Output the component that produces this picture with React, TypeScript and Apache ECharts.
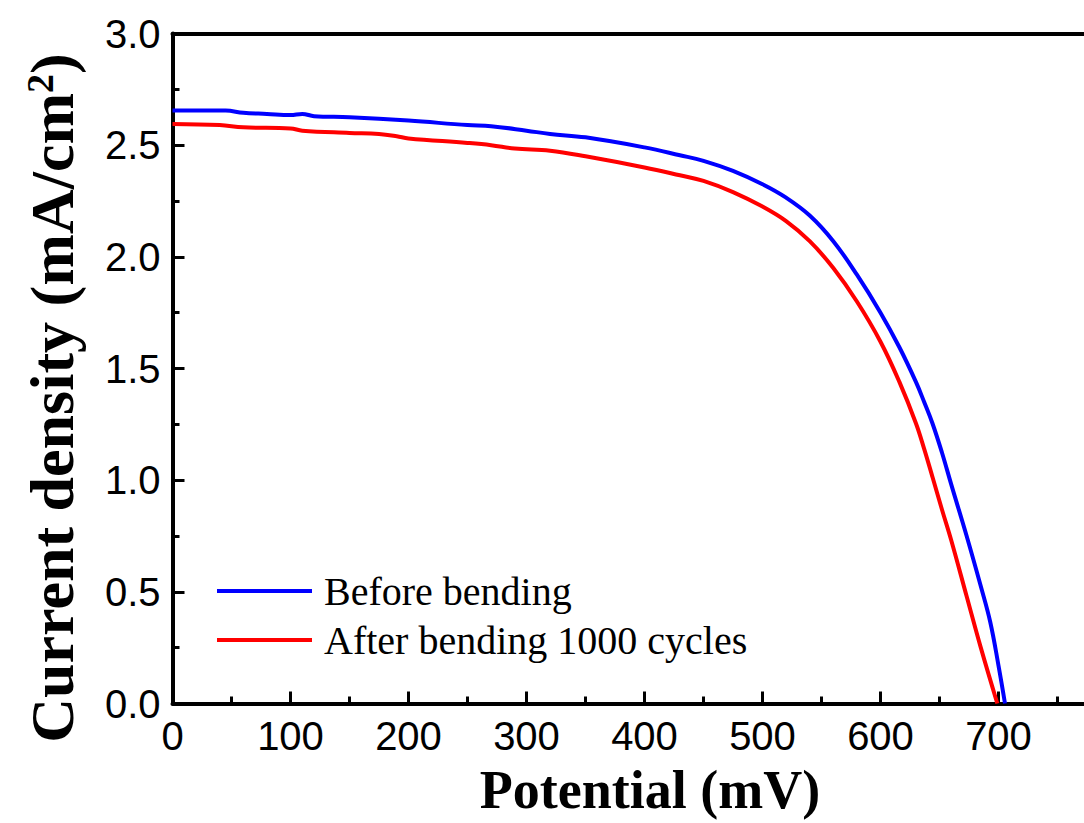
import React, { useEffect, useRef } from "react";
import * as echarts from "echarts";

const potentialBefore = [0, 20, 45, 60, 80, 100, 110, 120, 150, 200, 250, 270, 300, 320, 350, 400, 430, 450, 475, 500, 520, 540, 560, 580, 600, 616, 630, 637, 644, 652, 660, 673, 685, 693, 700, 705.5];
const currentBefore = [2.655, 2.655, 2.655, 2.645, 2.64, 2.635, 2.64, 2.63, 2.625, 2.61, 2.59, 2.585, 2.565, 2.55, 2.535, 2.49, 2.455, 2.43, 2.385, 2.325, 2.265, 2.185, 2.07, 1.92, 1.75, 1.595, 1.44, 1.35, 1.255, 1.125, 0.98, 0.75, 0.525, 0.365, 0.17, 0];

const potentialAfter = [0, 40, 60, 100, 110, 150, 175, 190, 200, 250, 270, 290, 320, 350, 400, 430, 450, 475, 500, 520, 540, 560, 580, 600, 616, 630, 637, 644, 652, 660, 673, 685, 699];
const currentAfter = [2.595, 2.59, 2.58, 2.575, 2.565, 2.555, 2.55, 2.54, 2.53, 2.51, 2.5, 2.485, 2.475, 2.45, 2.4, 2.365, 2.34, 2.29, 2.225, 2.16, 2.07, 1.95, 1.8, 1.62, 1.44, 1.255, 1.14, 1.015, 0.87, 0.73, 0.48, 0.25, 0];

const seriesNames = ["Before bending", "After bending 1000 cycles"];
const xTitle = "Potential (mV)";
const yTitleMain = "Current density (mA/cm";
const yTitleSup = "2";

export default function App() {
  const ref = useRef<HTMLDivElement>(null);
  useEffect(() => {
    if (!ref.current) return;
    const chart = echarts.init(ref.current, null, { renderer: "svg" });
    const sans = "'Liberation Sans', Arial, sans-serif";
    const serif = "'Liberation Serif', 'Times New Roman', serif";
    const axisCommon = {
      axisLine: { show: true, lineStyle: { color: "#000", width: 4 } },
      splitLine: { show: false },
    };
    chart.setOption({
      animation: false,
      backgroundColor: "#fff",
      grid: {
        left: 172.5,
        top: 33.5,
        width: 944,
        height: 670,
        containLabel: false,
        outerBoundsMode: "none",
      },
      legend: {
        orient: "vertical",
        left: 217,
        top: 571,
        padding: 0,
        icon: "rect",
        itemWidth: 95,
        itemHeight: 4,
        itemGap: 9,
        textStyle: { fontFamily: serif, fontSize: 40, color: "#000", lineHeight: 40, padding: [0, 0, 0, 7] },
        data: seriesNames,
      },
      xAxis: [
        {
          type: "value",
          position: "bottom",
          min: 0,
          max: 800,
          interval: 100,
          ...axisCommon,
          axisTick: { show: true, inside: true, length: 12, lineStyle: { color: "#000", width: 3 } },
          minorTick: { show: true, splitNumber: 2, length: 7, lineStyle: { color: "#000", width: 3 } },
          axisLabel: {
            fontFamily: sans,
            fontSize: 40,
            color: "#000",
            margin: 12,
            formatter: (v: number) => (v <= 700 ? String(v) : ""),
          },
        },
        {
          type: "value",
          position: "top",
          min: 0,
          max: 800,
          interval: 100,
          ...axisCommon,
          axisTick: { show: false },
          axisLabel: { show: false },
        },
      ],
      yAxis: {
        type: "value",
        min: 0,
        max: 3,
        interval: 0.5,
        ...axisCommon,
        axisTick: { show: true, inside: true, length: 12, lineStyle: { color: "#000", width: 3 } },
        minorTick: { show: true, splitNumber: 2, length: 7, lineStyle: { color: "#000", width: 3 } },
        axisLabel: {
          fontFamily: sans,
          fontSize: 40,
          color: "#000",
          margin: 12,
          formatter: (v: number) => v.toFixed(1),
        },
      },
      graphic: [
        {
          type: "text",
          x: 650,
          y: 790,
          style: {
            text: xTitle,
            font: `bold 54px ${serif}`,
            fill: "#000",
            textAlign: "center",
            textVerticalAlign: "middle",
          },
        },
        {
          type: "text",
          x: 52,
          y: 398,
          rotation: Math.PI / 2,
          style: {
            text: `{m|${yTitleMain}}{s|${yTitleSup}}{m|)}`,
            rich: {
              m: { font: `bold 62px ${serif}`, fill: "#000", verticalAlign: "bottom" },
              s: { font: `bold 38px ${serif}`, fill: "#000", verticalAlign: "top", padding: [0, 0, 22, 0] },
            },
            textAlign: "center",
            textVerticalAlign: "middle",
          },
        },
      ],
      series: [
        {
          name: seriesNames[0],
          type: "line",
          data: potentialBefore.map((p, i) => [p, currentBefore[i]]),
          showSymbol: false,
          smooth: 0.4,
          color: "#0000ff",
          lineStyle: { color: "#0000ff", width: 4 },
          z: 3,
        },
        {
          name: seriesNames[1],
          type: "line",
          data: potentialAfter.map((p, i) => [p, currentAfter[i]]),
          showSymbol: false,
          smooth: 0.4,
          color: "#ff0000",
          lineStyle: { color: "#ff0000", width: 4 },
          z: 2,
        },
      ],
    });
    return () => chart.dispose();
  }, []);
  return <div ref={ref} style={{ position: "absolute", left: 0, top: 0, width: 1084, height: 823 }} />;
}
